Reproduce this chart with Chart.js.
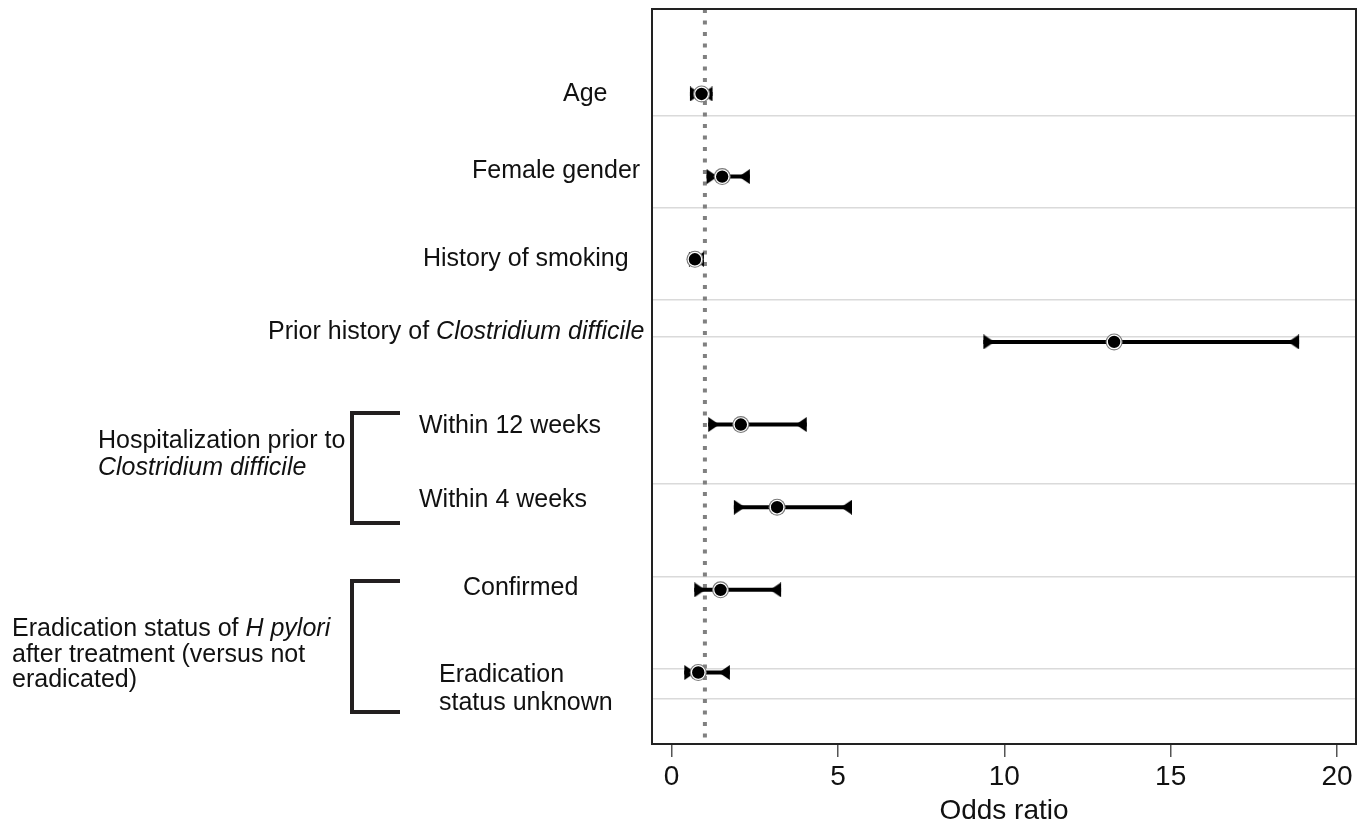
<!DOCTYPE html>
<html>
<head>
<meta charset="utf-8">
<title>Odds ratio</title>
<script src="https://cdn.jsdelivr.net/npm/chart.js@4.4.1/dist/chart.umd.min.js"></script>
<style>
    body { margin: 0; background: #fff; }
    #forest { display: block; }
</style>
</head>
<body>
<canvas id="forest" width="1366" height="829"></canvas>
<script>
// rows, top to bottom
const rowNames = [
    "Age",
    "Female gender",
    "History of smoking",
    "Prior history of Clostridium difficile",
    "Within 12 weeks",
    "Within 4 weeks",
    "Confirmed",
    "Eradication status unknown",
];
const oddsRatio = [0.9, 1.52, 0.7, 13.3, 2.08, 3.17, 1.47, 0.8];
const ciLower = [0.55, 1.05, 0.52, 9.37, 1.1, 1.87, 0.68, 0.38];
const ciUpper = [1.23, 2.35, 0.97, 18.86, 4.06, 5.42, 3.29, 1.75];
const xTicks = [0, 5, 10, 15, 20];
const refValue = 1;
// light horizontal rules, in row units
const gridRows = [0.267, 1.38, 2.493, 2.941, 4.719, 5.844, 6.957, 7.32];

const Y_MIN = -1.028;
const Y_MAX = 7.865;
const FONT = '"Liberation Sans", Arial, Helvetica, sans-serif';

// text in the left margin: [x, baseline, parts...] part = [text, italic]
const leftText = [
    [563, 101, [["Age", false]]],
    [472, 178, [["Female gender", false]]],
    [423, 266, [["History of smoking", false]]],
    [268, 339, [["Prior history of ", false], ["Clostridium difficile", true]]],
    [419, 433, [["Within 12 weeks", false]]],
    [419, 507, [["Within 4 weeks", false]]],
    [463, 595, [["Confirmed", false]]],
    [439, 682, [["Eradication", false]]],
    [439, 710, [["status unknown", false]]],
    [98, 448, [["Hospitalization prior to", false]]],
    [98, 475, [["Clostridium difficile", true]]],
    [12, 636, [["Eradication status of ", false], ["H pylori", true]]],
    [12, 662, [["after treatment (versus not", false]]],
    [12, 687, [["eradicated)", false]]],
];
const brackets = [
    [352, 400, 413, 523],
    [352, 400, 581, 712],
];

function makeCap(pointRight) {
    const c = document.createElement("canvas");
    c.width = 24;
    c.height = 15;
    const g = c.getContext("2d");
    g.fillStyle = "#000";
    g.beginPath();
    g.moveTo(12, 0);
    g.lineTo(12, 15);
    g.lineTo(pointRight ? 23 : 1, 7.5);
    g.closePath();
    g.fill();
    return c;
}

const marginText = {
    id: "marginText",
    afterDraw(chart) {
        const ctx = chart.ctx;
        ctx.save();
        ctx.fillStyle = "#111";
        ctx.textBaseline = "alphabetic";
        ctx.textAlign = "left";
        leftText.forEach(([x, y, parts]) => {
            let cx = x;
            parts.forEach(([txt, ital]) => {
                ctx.font = (ital ? "italic " : "") + "25px " + FONT;
                ctx.fillText(txt, cx, y);
                cx += ctx.measureText(txt).width;
            });
        });
        ctx.strokeStyle = "#231f20";
        ctx.lineWidth = 4;
        ctx.lineJoin = "miter";
        brackets.forEach(([x0, x1, y0, y1]) => {
            ctx.beginPath();
            ctx.moveTo(x1, y0);
            ctx.lineTo(x0, y0);
            ctx.lineTo(x0, y1);
            ctx.lineTo(x1, y1);
            ctx.stroke();
        });
        // frame round the plot
        const a = chart.chartArea;
        ctx.strokeStyle = "#222";
        ctx.lineWidth = 2;
        ctx.strokeRect(a.left, a.top, a.right - a.left, a.bottom - a.top);
        ctx.restore();
    },
};

document.addEventListener("DOMContentLoaded", function () {
    const ctx = document.getElementById("forest");
    const rowIdx = rowNames.map((_, i) => i);

    const ciLines = rowIdx.map((i) => ({
        type: "line",
        data: [
            { x: ciLower[i], y: i },
            { x: ciUpper[i], y: i },
        ],
        borderColor: "#000",
        borderWidth: 4,
        pointRadius: 0,
        order: 5,
    }));

    new Chart(ctx, {
        type: "scatter",
        data: {
            datasets: [
                {
                    type: "line",
                    data: [
                        { x: refValue, y: Y_MIN },
                        { x: refValue, y: Y_MAX },
                    ],
                    borderColor: "#808080",
                    borderWidth: 4,
                    borderDash: [4, 7.5],
                    pointRadius: 0,
                    order: 10,
                },
                ...ciLines,
                {
                    data: rowIdx.map((i) => ({ x: ciLower[i], y: i })),
                    pointStyle: makeCap(true),
                    order: 4,
                },
                {
                    data: rowIdx.map((i) => ({ x: ciUpper[i], y: i })),
                    pointStyle: makeCap(false),
                    order: 4,
                },
                {
                    data: rowIdx.map((i) => ({ x: oddsRatio[i], y: i })),
                    pointRadius: 8.5,
                    backgroundColor: "#7a7a7a",
                    borderWidth: 0,
                    order: 2,
                },
                {
                    data: rowIdx.map((i) => ({ x: oddsRatio[i], y: i })),
                    pointRadius: 6.8,
                    backgroundColor: "#000",
                    borderColor: "#fff",
                    borderWidth: 1.2,
                    order: 1,
                },
            ],
        },
        options: {
            responsive: false,
            animation: false,
            layout: { padding: { left: 652, right: 10, top: 9, bottom: 0 } },
            plugins: {
                legend: { display: false },
                tooltip: { enabled: false },
            },
            scales: {
                x: {
                    type: "linear",
                    position: "bottom",
                    min: -0.59,
                    max: 20.57,
                    afterBuildTicks: (scale) => {
                        scale.ticks = xTicks.map((v) => ({ value: v }));
                    },
                    ticks: {
                        color: "#111",
                        padding: 6,
                        font: { family: FONT, size: 28, lineHeight: 1 },
                    },
                    grid: {
                        drawOnChartArea: false,
                        drawTicks: true,
                        tickLength: 13,
                        color: "#555",
                        lineWidth: 1.5,
                    },
                    border: { display: true, color: "#222", width: 2 },
                    title: {
                        display: true,
                        text: "Odds ratio",
                        color: "#111",
                        font: { family: FONT, size: 28, lineHeight: 1 },
                        padding: { top: 0, bottom: 4 },
                    },
                },
                y: {
                    type: "linear",
                    reverse: true,
                    min: Y_MIN,
                    max: Y_MAX,
                    afterBuildTicks: (scale) => {
                        scale.ticks = gridRows.map((v) => ({ value: v }));
                    },
                    ticks: { display: false },
                    grid: {
                        color: "#dadada",
                        lineWidth: 1.5,
                        drawTicks: false,
                    },
                    border: { display: false },
                },
            },
        },
        plugins: [marginText],
    });
});
</script>
</body>
</html>
